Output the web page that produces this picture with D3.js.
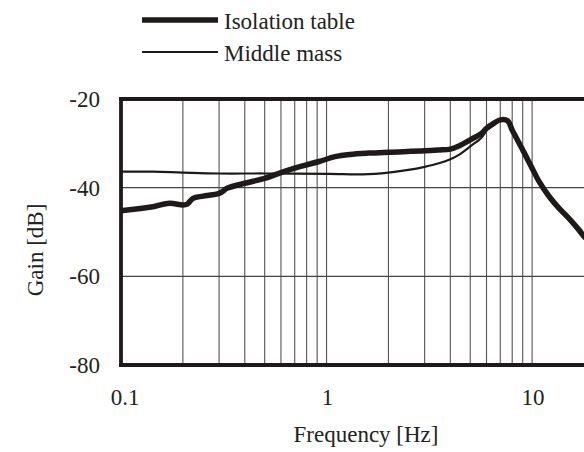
<!DOCTYPE html>
<html>
<head>
<meta charset="utf-8">
<script src="https://cdn.jsdelivr.net/npm/d3@7"></script>
<style>
  body { margin: 0; background: #fff; overflow: hidden; }
  text { font-family: "Liberation Serif", "Times New Roman", serif; fill: #222; }
</style>
</head>
<body>
<div id="chart"></div>
<script>
// frequency response
const freqTable = [0.1, 0.143, 0.172, 0.2, 0.21, 0.224, 0.251, 0.3, 0.33, 0.4, 0.5, 0.6, 0.7, 0.79, 0.92, 1.1, 1.3, 1.6, 2, 3, 3.52, 4, 4.4, 5, 5.7, 6, 6.5, 7.0, 7.6, 8, 9, 10, 10.8, 12.1, 13.5, 15.1, 16.9, 17.7, 20];
const gainTable = [-45.2, -44.3, -43.5, -43.9, -43.7, -42.4, -41.9, -41.3, -40.1, -39.0, -37.9, -36.6, -35.6, -34.9, -34.1, -33.0, -32.5, -32.2, -32.0, -31.7, -31.5, -31.3, -30.6, -29.2, -27.7, -26.6, -25.5, -24.7, -24.9, -27.0, -31.5, -35.6, -38.6, -42.0, -44.6, -46.9, -49.5, -50.7, -53.0];

const freqMass = [0.1, 0.143, 0.2, 0.3, 0.5, 1.03, 1.5, 2, 2.5, 3, 3.52, 4, 4.4, 5, 5.7, 6, 6.5, 7.0, 7.6, 8, 9, 10, 10.8, 12.1, 13.5, 15.1, 16.9, 17.7, 20];
const gainMass = [-36.4, -36.4, -36.6, -36.8, -36.8, -36.9, -37.0, -36.6, -36.0, -35.3, -34.5, -33.6, -32.6, -30.7, -28.6, -27.1, -25.9, -24.8, -25.0, -27.1, -31.6, -35.8, -38.9, -42.4, -45.0, -47.4, -50.1, -51.3, -53.6];

const yTicks = [-20, -40, -60, -80];
const xTicks = [0.1, 1, 10];
const xGrid = [0.2, 0.3, 0.4, 0.5, 0.6, 0.7, 0.8, 0.9, 1, 2, 3, 4, 5, 6, 7, 8, 9, 10];

const width = 584, height = 452;
const svg = d3.select('#chart').append('svg')
  .attr('width', width)
  .attr('height', height);

const x = d3.scaleLog().domain([0.1, 20]).range([121, 594]);
const y = d3.scaleLinear().domain([-80, -20]).range([365, 99]);

// grid
svg.append('g')
  .selectAll('line')
  .data(xGrid)
  .join('line')
  .attr('x1', d => x(d)).attr('x2', d => x(d))
  .attr('y1', y(-20)).attr('y2', y(-80))
  .attr('stroke', '#555')
  .attr('stroke-width', 1.1);

svg.append('g')
  .selectAll('line')
  .data([-40, -60])
  .join('line')
  .attr('x1', x(0.1)).attr('x2', width)
  .attr('y1', d => y(d)).attr('y2', d => y(d))
  .attr('stroke', '#444')
  .attr('stroke-width', 1.3);

// curves
const line = d3.line()
  .x(d => x(d[0]))
  .y(d => y(d[1]))
  .curve(d3.curveCatmullRom.alpha(0.5));

svg.append('path')
  .datum(d3.zip(freqTable, gainTable))
  .attr('d', line)
  .attr('fill', 'none')
  .attr('stroke', '#1e1a1a')
  .attr('stroke-width', 5.5)
  .attr('stroke-linejoin', 'round');

svg.append('path')
  .datum(d3.zip(freqMass, gainMass))
  .attr('d', line)
  .attr('fill', 'none')
  .attr('stroke', '#1e1a1a')
  .attr('stroke-width', 2.2)
  .attr('stroke-linejoin', 'round');

// frame: the right side lies outside the picture
const frame = [
  [[x(0.1), y(-20)], [width, y(-20)]],
  [[x(0.1), y(-80)], [width, y(-80)]],
  [[x(0.1), y(-20)], [x(0.1), y(-80)]]
];
svg.append('g')
  .selectAll('path')
  .data(frame)
  .join('path')
  .attr('d', d => d3.line()(d))
  .attr('stroke', '#1e1a1a')
  .attr('stroke-width', 3.8)
  .attr('stroke-linecap', 'square');

// tick labels
svg.append('g')
  .selectAll('text')
  .data(yTicks)
  .join('text')
  .attr('x', 100)
  .attr('y', d => y(d) + 8)
  .attr('text-anchor', 'end')
  .attr('font-size', 23)
  .text(d => d);

svg.append('g')
  .selectAll('text')
  .data(xTicks)
  .join('text')
  .attr('x', d => x(d) + (d === 0.1 ? 4 : 1))
  .attr('y', 405)
  .attr('text-anchor', 'middle')
  .attr('font-size', 23)
  .text(d => d);

// axis titles
svg.append('text')
  .attr('transform', 'translate(43,250) rotate(-90)')
  .attr('text-anchor', 'middle')
  .attr('font-size', 23)
  .text('Gain [dB]');

svg.append('text')
  .attr('x', 366)
  .attr('y', 442)
  .attr('text-anchor', 'middle')
  .attr('font-size', 23)
  .text('Frequency [Hz]');

// legend
const legend = [
  { name: 'Isolation table', w: 5.5, y: 20 },
  { name: 'Middle mass', w: 2.2, y: 52 }
];
legend.forEach(l => {
  svg.append('line')
    .attr('x1', 142).attr('x2', 218)
    .attr('y1', l.y).attr('y2', l.y)
    .attr('stroke', '#1e1a1a')
    .attr('stroke-width', l.w);
  svg.append('text')
    .attr('x', 224)
    .attr('y', l.y + 9)
    .attr('font-size', 23)
    .text(l.name);
});
</script>
</body>
</html>
